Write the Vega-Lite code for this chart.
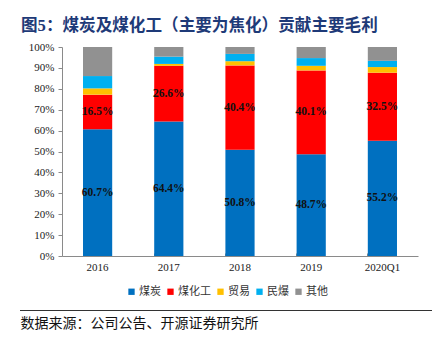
{
  "$schema": "https://vega.github.io/schema/vega-lite/v6.json",
  "autosize": "none",
  "width": 356,
  "height": 209,
  "padding": {"left": 62, "top": 47, "right": 24, "bottom": 86},
  "background": "white",
  "title": {
    "text": "图5：煤炭及煤化工（主要为焦化）贡献主要毛利",
    "anchor": "start",
    "frame": "group",
    "dx": -41,
    "offset": 6,
    "font": "Liberation Serif, Noto Sans CJK SC",
    "fontSize": 16.6,
    "fontWeight": "bold",
    "color": "#1E3A78"
  },
  "config": {
    "view": {"stroke": null},
    "axis": {"labelFont": "Liberation Serif", "labelFontSize": 11, "labelColor": "#222", "domainColor": "#8a8a8a", "tickColor": "#8a8a8a"}
  },
  "data": {
    "values": [
      {"year": "2016", "cat": "煤炭", "v": 0.607},
      {"year": "2016", "cat": "煤化工", "v": 0.165},
      {"year": "2016", "cat": "贸易", "v": 0.030},
      {"year": "2016", "cat": "民爆", "v": 0.059},
      {"year": "2016", "cat": "其他", "v": 0.139},
      {"year": "2017", "cat": "煤炭", "v": 0.644},
      {"year": "2017", "cat": "煤化工", "v": 0.266},
      {"year": "2017", "cat": "贸易", "v": 0.009},
      {"year": "2017", "cat": "民爆", "v": 0.035},
      {"year": "2017", "cat": "其他", "v": 0.046},
      {"year": "2018", "cat": "煤炭", "v": 0.508},
      {"year": "2018", "cat": "煤化工", "v": 0.404},
      {"year": "2018", "cat": "贸易", "v": 0.020},
      {"year": "2018", "cat": "民爆", "v": 0.035},
      {"year": "2018", "cat": "其他", "v": 0.033},
      {"year": "2019", "cat": "煤炭", "v": 0.487},
      {"year": "2019", "cat": "煤化工", "v": 0.401},
      {"year": "2019", "cat": "贸易", "v": 0.022},
      {"year": "2019", "cat": "民爆", "v": 0.037},
      {"year": "2019", "cat": "其他", "v": 0.053},
      {"year": "2020Q1", "cat": "煤炭", "v": 0.552},
      {"year": "2020Q1", "cat": "煤化工", "v": 0.325},
      {"year": "2020Q1", "cat": "贸易", "v": 0.027},
      {"year": "2020Q1", "cat": "民爆", "v": 0.030},
      {"year": "2020Q1", "cat": "其他", "v": 0.066}
    ]
  },
  "layer": [
    {
      "transform": [
        {"calculate": "indexof(['煤炭','煤化工','贸易','民爆','其他'], datum.cat)", "as": "rank"}
      ],
      "mark": {"type": "bar"},
      "encoding": {
        "x": {
          "field": "year", "type": "nominal", "sort": null,
          "scale": {"paddingInner": 0.59, "paddingOuter": 0.295},
          "axis": {
            "labelAngle": 0, "bandPosition": 0, "tickSize": -3, "labelPadding": 8,
            "title": "数据来源：公司公告、开源证券研究所",
            "titleFont": "Noto Sans CJK SC", "titleFontSize": 14, "titleFontWeight": "normal", "titleColor": "#111",
            "titleAnchor": "start", "titleAlign": "left", "titleBaseline": "middle",
            "titleX": -42, "titleY": 67
          }
        },
        "y": {
          "field": "v", "type": "quantitative", "stack": "zero",
          "scale": {"domain": [0, 1], "nice": false},
          "axis": {"values": [0, 0.1, 0.2, 0.3, 0.4, 0.5, 0.6, 0.7, 0.8, 0.9, 1], "format": ".0%", "grid": false, "tickSize": 4, "labelPadding": 4, "labelOverlap": false, "title": null}
        },
        "color": {
          "field": "cat", "type": "nominal",
          "sort": ["煤炭", "煤化工", "贸易", "民爆", "其他"],
          "scale": {"domain": ["煤炭", "煤化工", "贸易", "民爆", "其他"], "range": ["#0070C0", "#FF0000", "#FFC000", "#00B0F0", "#919191"]},
          "legend": {
            "orient": "none", "direction": "horizontal", "legendX": 64, "legendY": 239, "title": null,
            "symbolType": "square", "symbolSize": 40, "symbolStrokeWidth": 0,
            "labelFont": "Noto Sans CJK SC", "labelFontSize": 11, "labelColor": "#333",
            "labelOffset": 2, "columnPadding": 4
          }
        },
        "order": {"field": "rank", "type": "quantitative", "sort": "ascending"}
      }
    },
    {
      "transform": [
        {"filter": "datum.cat === '煤炭' || datum.cat === '煤化工'"},
        {"stack": "v", "groupby": ["year"], "sort": [{"field": "cat", "order": "descending"}], "as": ["v0", "v1"]},
        {"fold": ["v0", "v1"], "as": ["edge", "pos"]},
        {"aggregate": [{"op": "mean", "field": "pos", "as": "mid"}], "groupby": ["year", "cat", "v"]}
      ],
      "mark": {"type": "text", "font": "Liberation Serif", "fontSize": 11.5, "fontWeight": "bold", "color": "#111", "baseline": "middle"},
      "encoding": {
        "x": {"field": "year", "type": "nominal", "sort": null},
        "y": {
          "field": "mid", "type": "quantitative",
          "axis": {"values": [0, 0.1, 0.2, 0.3, 0.4, 0.5, 0.6, 0.7, 0.8, 0.9, 1], "format": ".0%", "grid": false, "tickSize": 4, "labelPadding": 4, "labelOverlap": false, "title": null}
        },
        "text": {"field": "v", "type": "quantitative", "format": ".1%"}
      }
    },
    {
      "data": {"values": [{"a": 1}, {"a": 2}]},
      "mark": {"type": "rule", "color": "#333", "strokeWidth": 1},
      "encoding": {
        "x": {"value": -42}, "x2": {"value": 370},
        "y": {"condition": {"test": "datum.a === 1", "value": -14.5}, "value": 263.5}
      }
    }
  ]
}
